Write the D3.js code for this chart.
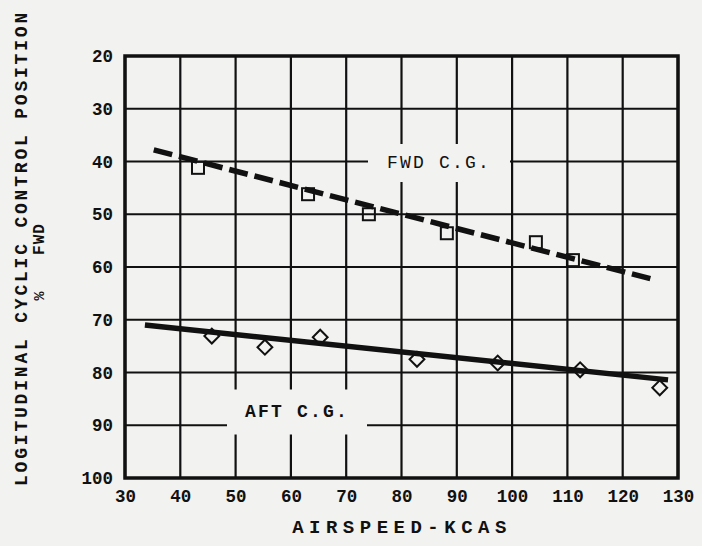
<!DOCTYPE html>
<html>
<head>
<meta charset="utf-8">
<script src="https://cdn.jsdelivr.net/npm/d3@7"></script>
<style>
  body { margin: 0; background: #f2f2f0; }
  svg { display: block; }
  text { font-family: "Liberation Mono", "DejaVu Sans Mono", monospace; fill: #111; }
</style>
</head>
<body>
<div id="chart"></div>
<script>
// airspeed ticks and control position ticks
var xTicks = [30, 40, 50, 60, 70, 80, 90, 100, 110, 120, 130];
var yTicks = [20, 30, 40, 50, 60, 70, 80, 90, 100];

// fwd c.g. test points (squares)
var fwdSpeed = [43.2, 63.1, 74.1, 88.2, 104.3, 111.0];
var fwdPos   = [41.2, 46.2, 50.0, 53.6, 55.3, 58.7];
// fwd c.g. faired line (dashed)
var fwdLineSpeed = [35.2, 125.3];
var fwdLinePos   = [37.8, 62.3];

// aft c.g. test points (diamonds)
var aftSpeed = [45.7, 55.3, 65.3, 82.8, 97.4, 112.3, 126.7];
var aftPos   = [73.1, 75.2, 73.3, 77.5, 78.2, 79.5, 82.9];
// aft c.g. faired line (solid)
var aftLineSpeed = [33.6, 128.2];
var aftLinePos   = [71.0, 81.4];

// set the dimensions and margins of the graph
var W = 702, H = 546;
var margin = {top: 56, right: 24, bottom: 68, left: 125},
    width = W - margin.left - margin.right,
    height = H - margin.top - margin.bottom;

var x = d3.scaleLinear().domain([30, 130]).range([0, width]);
var y = d3.scaleLinear().domain([20, 100]).range([0, height]);

var svg = d3.select("#chart").append("svg")
    .attr("width", W)
    .attr("height", H);

var g = svg.append("g")
    .attr("transform", "translate(" + margin.left + "," + margin.top + ")");

// grid
g.append("g")
    .selectAll("line")
    .data(xTicks)
    .join("line")
      .attr("x1", d => x(d)).attr("x2", d => x(d))
      .attr("y1", 0).attr("y2", height)
      .attr("stroke", "#111").attr("stroke-width", 2.2);

g.append("g")
    .selectAll("line")
    .data(yTicks)
    .join("line")
      .attr("x1", 0).attr("x2", width)
      .attr("y1", d => y(d)).attr("y2", d => y(d))
      .attr("stroke", "#111").attr("stroke-width", 2.2);

// border
g.append("rect")
    .attr("width", width).attr("height", height)
    .attr("fill", "none").attr("stroke", "#111").attr("stroke-width", 3.5);

// tick labels via axes, domain and tick lines hidden
var yAxis = g.append("g")
    .call(d3.axisLeft(y).tickValues(yTicks).tickSize(0).tickPadding(12));
var xAxis = g.append("g")
    .attr("transform", "translate(0," + height + ")")
    .call(d3.axisBottom(x).tickValues(xTicks).tickSize(0).tickPadding(12));
[xAxis, yAxis].forEach(function(a) {
  a.select(".domain").remove();
  a.selectAll("text")
    .attr("font-family", "DejaVu Sans Mono")
    .attr("font-size", 17.5)
    .attr("font-weight", "bold")
    .attr("fill", "#111");
});

// curve labels with paper background, breaking the grid
function label(txt, cx, cy, bw, bh, weight) {
  g.append("rect")
    .attr("x", cx - bw / 2).attr("y", cy - bh / 2)
    .attr("width", bw).attr("height", bh)
    .attr("fill", "#f2f2f0");
  g.append("text")
    .attr("x", cx).attr("y", cy)
    .attr("text-anchor", "middle")
    .attr("dominant-baseline", "central")
    .attr("font-size", 18)
    .attr("font-weight", weight)
    .attr("letter-spacing", 2.2)
    .text(txt);
}
label("FWD C.G.", 439 - margin.left, 163 - margin.top, 142, 38, "normal");
label("AFT C.G.", 297 - margin.left, 412 - margin.top, 140, 45, "bold");

// lines
var valueline = d3.line()
    .x(d => x(d[0]))
    .y(d => y(d[1]));

g.append("path")
    .datum(d3.zip(fwdLineSpeed, fwdLinePos))
    .attr("d", valueline)
    .attr("fill", "none")
    .attr("stroke", "#111")
    .attr("stroke-width", 5.5)
    .attr("stroke-dasharray", "19,7");

g.append("path")
    .datum(d3.zip(aftLineSpeed, aftLinePos))
    .attr("d", valueline)
    .attr("fill", "none")
    .attr("stroke", "#111")
    .attr("stroke-width", 5.5);

// points
var sq = 12;
g.append("g")
    .selectAll("rect")
    .data(d3.zip(fwdSpeed, fwdPos))
    .join("rect")
      .attr("x", d => x(d[0]) - sq / 2)
      .attr("y", d => y(d[1]) - sq / 2)
      .attr("width", sq).attr("height", sq)
      .attr("fill", "none")
      .attr("stroke", "#111")
      .attr("stroke-width", 2);

var diamond = d3.symbol().type(d3.symbolSquare).size(110);
g.append("g")
    .selectAll("path")
    .data(d3.zip(aftSpeed, aftPos))
    .join("path")
      .attr("d", diamond)
      .attr("transform", d => "translate(" + x(d[0]) + "," + y(d[1]) + ") rotate(45)")
      .attr("fill", "none")
      .attr("stroke", "#111")
      .attr("stroke-width", 2);

// axis titles
svg.append("text")
    .attr("x", 402).attr("y", 533)
    .attr("text-anchor", "middle")
    .attr("font-size", 19)
    .attr("font-weight", "bold")
    .attr("letter-spacing", 5.5)
    .text("AIRSPEED-KCAS");

svg.append("text")
    .attr("transform", "translate(22,248) rotate(-90)")
    .attr("text-anchor", "middle")
    .attr("dominant-baseline", "central")
    .attr("font-size", 18)
    .attr("font-weight", "bold")
    .attr("letter-spacing", 2.8)
    .text("LOGITUDINAL CYCLIC CONTROL POSITION");

// second line of the y title: "%" set apart from "FWD"
svg.append("text")
    .attr("transform", "translate(40,296) rotate(-90)")
    .attr("text-anchor", "middle")
    .attr("dominant-baseline", "central")
    .attr("font-size", 15)
    .attr("font-weight", "bold")
    .text("%");

svg.append("text")
    .attr("transform", "translate(40,239) rotate(-90)")
    .attr("text-anchor", "middle")
    .attr("dominant-baseline", "central")
    .attr("font-size", 16)
    .attr("font-weight", "bold")
    .attr("letter-spacing", 1)
    .text("FWD");
</script>
</body>
</html>
